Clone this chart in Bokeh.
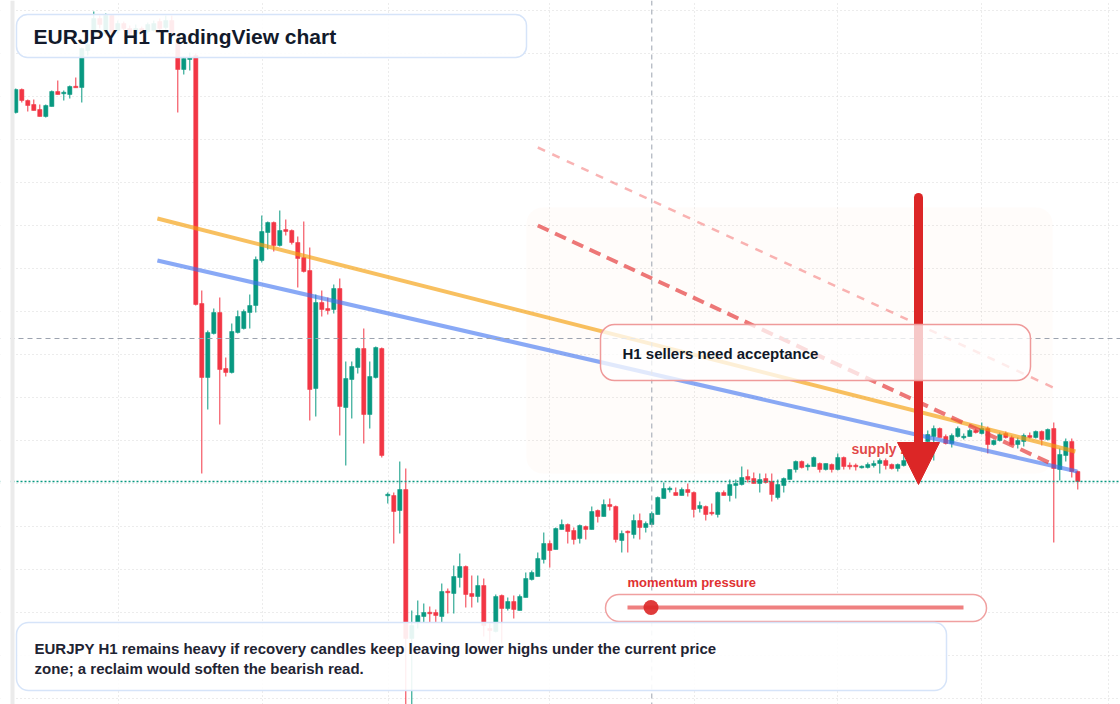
import numpy as np
from bokeh.plotting import figure
from bokeh.models import (ColumnDataSource, BoxAnnotation, Label, Span, Arrow,
                          NormalHead, FixedTicker, Range1d)
from bokeh.embed import file_html
from bokeh.resources import INLINE

# EURJPY H1 candles (price in yen)
opens = [
    163.88, 164.11, 164.00, 163.96, 163.91, 163.84, 163.94, 164.09, 164.07, 164.06,
    164.14, 164.13, 164.50, 164.67, 164.82, 164.67, 164.85, 164.70, 164.77, 164.72,
    164.67, 164.72, 164.69, 164.70, 164.79, 164.73, 164.80, 164.58, 164.31, 164.41,
    164.45, 161.97, 161.23, 161.67, 161.88, 161.32, 161.28, 161.68, 161.72, 161.88,
    161.95, 162.40, 162.68, 162.78, 162.55, 162.71, 162.70, 162.58, 162.43, 162.30,
    161.12, 161.98, 161.92, 161.91, 162.12, 160.93, 161.21, 161.33, 161.52, 160.86,
    161.23, 161.52, 160.05, 160.05, 159.90, 160.11, 158.62, 158.78, 158.84, 158.88,
    158.88, 158.84, 159.09, 159.07, 159.23, 159.34, 159.07, 159.04, 159.15, 158.72,
    158.69, 159.05, 158.92, 158.99, 158.90, 159.03, 159.21, 159.24, 159.41, 159.57,
    159.51, 159.71, 159.76, 159.70, 159.62, 159.74, 159.71, 159.90, 159.84, 159.96,
    159.94, 159.60, 159.69, 159.66, 159.80, 159.73, 159.76, 159.86, 160.02, 160.11,
    160.08, 160.05, 160.11, 160.08, 159.92, 159.94, 159.88, 159.86, 160.08, 160.05,
    160.15, 160.16, 160.24, 160.22, 160.17, 160.22, 160.19, 160.03, 160.15, 160.21,
    160.31, 160.39, 160.34, 160.34, 160.37, 160.31, 160.36, 160.31, 160.43, 160.35,
    160.35, 160.33, 160.33, 160.35, 160.37, 160.40, 160.36, 160.32, 160.35, 160.40,
    160.48, 160.55, 160.59, 160.64, 160.72, 160.64, 160.57, 160.64, 160.63, 160.64,
    160.70, 160.67, 160.72, 160.56, 160.60, 160.67, 160.63, 160.56, 160.59, 160.65,
    160.63, 160.69, 160.61, 160.72, 160.31, 160.45, 160.59, 160.29,
]
highs = [
    164.12, 164.12, 164.01, 164.01, 163.96, 163.96, 164.10, 164.20, 164.10, 164.15,
    164.23, 164.53, 164.60, 164.89, 164.85, 164.87, 164.86, 164.80, 164.79, 164.75,
    164.76, 164.74, 164.78, 164.80, 164.82, 164.85, 164.85, 164.62, 164.44, 164.48,
    164.47, 162.10, 161.70, 161.92, 162.03, 161.43, 161.77, 161.90, 161.91, 162.06,
    162.44, 162.85, 162.79, 162.79, 162.90, 162.81, 162.71, 162.64, 162.79, 162.53,
    162.06, 162.10, 162.03, 162.16, 162.22, 161.39, 161.39, 161.53, 161.72, 161.39,
    161.54, 161.53, 160.08, 160.08, 160.39, 160.32, 158.90, 159.00, 158.97, 158.94,
    158.91, 159.17, 159.12, 159.35, 159.47, 159.35, 159.25, 159.25, 159.22, 158.77,
    159.06, 159.06, 159.03, 159.05, 159.06, 159.28, 159.30, 159.48, 159.68, 159.60,
    159.73, 159.81, 159.77, 159.73, 159.76, 159.75, 159.94, 159.91, 160.01, 160.02,
    159.95, 159.70, 159.70, 159.86, 159.87, 159.79, 159.89, 160.04, 160.18, 160.14,
    160.13, 160.13, 160.17, 160.09, 159.99, 159.95, 159.97, 160.09, 160.10, 160.21,
    160.21, 160.34, 160.31, 160.28, 160.27, 160.27, 160.27, 160.21, 160.23, 160.31,
    160.40, 160.40, 160.37, 160.44, 160.38, 160.37, 160.37, 160.47, 160.44, 160.38,
    160.37, 160.35, 160.38, 160.40, 160.42, 160.42, 160.37, 160.37, 160.47, 160.52,
    160.60, 160.59, 160.70, 160.75, 160.73, 160.66, 160.67, 160.74, 160.67, 160.72,
    160.72, 160.78, 160.74, 160.61, 160.68, 160.69, 160.65, 160.63, 160.67, 160.68,
    160.70, 160.70, 160.72, 160.78, 160.52, 160.62, 160.62, 160.30,
]
lows = [
    163.87, 163.98, 163.89, 163.90, 163.84, 163.83, 163.94, 164.06, 164.00, 164.02,
    164.13, 163.98, 164.45, 164.65, 164.72, 164.65, 164.64, 164.67, 164.69, 164.64,
    164.65, 164.66, 164.67, 164.69, 164.70, 164.71, 164.65, 163.88, 164.26, 164.30,
    161.95, 160.27, 160.91, 161.66, 160.76, 161.24, 161.27, 161.67, 161.71, 161.72,
    161.88, 162.38, 162.51, 162.49, 162.54, 162.65, 162.56, 162.13, 162.28, 160.80,
    160.84, 161.84, 161.86, 161.87, 160.65, 160.35, 160.82, 161.27, 160.57, 160.72,
    161.22, 160.43, 159.97, 159.57, 159.67, 157.85, 157.88, 158.72, 158.78, 158.78,
    158.78, 158.78, 158.87, 158.87, 159.13, 158.93, 158.93, 158.98, 158.64, 158.57,
    158.68, 158.57, 158.90, 158.82, 158.90, 159.03, 159.20, 159.24, 159.37, 159.33,
    159.51, 159.71, 159.57, 159.56, 159.57, 159.61, 159.71, 159.78, 159.84, 159.90,
    159.58, 159.48, 159.48, 159.62, 159.61, 159.68, 159.76, 159.86, 160.02, 160.08,
    160.05, 160.05, 160.04, 159.83, 159.88, 159.80, 159.85, 159.83, 160.05, 159.99,
    160.02, 160.15, 160.18, 160.17, 160.08, 160.17, 159.99, 160.01, 160.08, 160.21,
    160.28, 160.32, 160.30, 160.34, 160.28, 160.30, 160.28, 160.30, 160.31, 160.31,
    160.30, 160.32, 160.32, 160.33, 160.27, 160.31, 160.31, 160.29, 160.34, 160.38,
    160.45, 160.48, 160.57, 160.40, 160.63, 160.56, 160.53, 160.63, 160.61, 160.64,
    160.67, 160.66, 160.47, 160.55, 160.59, 160.62, 160.55, 160.52, 160.54, 160.62,
    160.62, 160.55, 160.60, 159.58, 160.20, 160.39, 160.23, 160.11,
]
closes = [
    164.11, 164.00, 163.95, 163.90, 163.84, 163.95, 164.09, 164.06, 164.08, 164.14,
    164.13, 164.52, 164.56, 164.82, 164.76, 164.85, 164.68, 164.77, 164.72, 164.67,
    164.72, 164.69, 164.76, 164.77, 164.72, 164.80, 164.68, 164.31, 164.42, 164.43,
    161.96, 161.23, 161.68, 161.88, 161.31, 161.28, 161.69, 161.84, 161.89, 161.95,
    162.41, 162.69, 162.78, 162.55, 162.70, 162.69, 162.58, 162.42, 162.29, 161.11,
    161.98, 161.91, 161.90, 162.12, 160.94, 161.22, 161.34, 161.52, 160.86, 161.24,
    161.53, 160.45, 160.06, 159.89, 160.11, 158.62, 158.75, 158.85, 158.88, 158.87,
    158.85, 159.09, 159.08, 159.24, 159.34, 159.06, 159.04, 159.15, 158.75, 158.70,
    159.04, 158.92, 158.99, 158.91, 159.04, 159.22, 159.28, 159.42, 159.57, 159.50,
    159.72, 159.76, 159.69, 159.61, 159.75, 159.71, 159.89, 159.84, 159.96, 159.94,
    159.61, 159.67, 159.68, 159.80, 159.73, 159.77, 159.87, 160.03, 160.12, 160.12,
    160.05, 160.11, 160.08, 159.91, 159.95, 159.86, 159.87, 160.08, 160.05, 160.16,
    160.17, 160.23, 160.21, 160.17, 160.21, 160.18, 160.06, 160.16, 160.22, 160.31,
    160.39, 160.33, 160.35, 160.43, 160.31, 160.37, 160.31, 160.43, 160.34, 160.34,
    160.34, 160.34, 160.36, 160.37, 160.40, 160.35, 160.32, 160.36, 160.40, 160.48,
    160.55, 160.52, 160.66, 160.72, 160.63, 160.57, 160.65, 160.72, 160.64, 160.70,
    160.68, 160.72, 160.56, 160.60, 160.66, 160.63, 160.56, 160.60, 160.65, 160.63,
    160.69, 160.61, 160.71, 160.32, 160.46, 160.59, 160.29, 160.19,
]

# drawn trendlines (candle index, price)
trend_x = [23.6, 176.6]
orange_y = [162.82, 160.49]
blue_x = [23.6, 176.9]
blue_y = [162.40, 160.29]
channel_x = [87.0, 172.9]
channel_low_y = [162.75, 160.36]
channel_high_y = [163.53, 161.13]

# horizontal grid levels and vertical session markers
grid_prices = [164.905, 164.475, 164.045, 163.615, 163.185, 162.755, 162.325, 161.895,
               161.465, 161.035, 160.605, 160.175, 159.745, 159.315, 158.885, 158.455,
               158.025]
grid_bars = [17.1, 41.1, 62.1, 89.0, 113.1, 137.0, 161.0, 182.1]
crosshair_bar = 106.0
crosshair_price = 161.62
momentum_pressure = 0.07

title = "EURJPY H1 TradingView chart"
callout = "H1 sellers need acceptance"
note_lines = ["EURJPY H1 remains heavy if recovery candles keep leaving lower highs under the current price",
              "zone; a reclaim would soften the bearish read."]

GREEN = "#089981"
RED = "#f23645"
FONT = "Liberation Sans"


def fx(px):
    # pixel column of the layout -> candle index
    return (px - 15.3) / 6.0


def fy(py):
    # pixel row of the layout -> price
    return 165.0 - py / 100.0


p = figure(
    width=1120, height=704,
    x_range=Range1d(fx(0), fx(1120)), y_range=Range1d(fy(704), fy(0)),
    x_axis_location=None, y_axis_location=None,
    output_backend="svg", toolbar_location=None, tools="",
    min_border=0, border_fill_color="white",
    background_fill_color="white", outline_line_color=None,
)

# the figure keeps its grids even without axes: point them at our levels
p.ygrid.ticker = FixedTicker(ticks=grid_prices)
p.xgrid.ticker = FixedTicker(ticks=grid_bars)
p.grid.grid_line_color = "#d9d9d9"
p.grid.grid_line_dash = "1 3"

# supply zone shading
p.add_layout(BoxAnnotation(left=fx(526), right=fx(1052), top=fy(207), bottom=fy(473),
                           fill_color="#f97316", fill_alpha=0.022, line_color=None,
                           border_radius=16, level="underlay"))

# candles
o = np.array(opens)
c = np.array(closes)
top = np.maximum(o, c)
bot = np.minimum(o, c)
thin = (top - bot) < 0.015
mid = (top + bot) / 2
top = np.where(thin, mid + 0.0075, top)
bot = np.where(thin, mid - 0.0075, bot)
src = ColumnDataSource(dict(
    x=np.arange(len(opens)), h=highs, l=lows, top=top, bot=bot,
    color=np.where(c >= o, GREEN, RED),
))
p.segment(x0="x", y0="l", x1="x", y1="h", line_color="color", line_width=1, source=src)
p.vbar(x="x", top="top", bottom="bot", width=0.7, fill_color="color",
       line_color="color", line_width=0.5, source=src)

# trendlines
p.line(trend_x, orange_y, line_width=4, line_color="#f59e0b", line_alpha=0.65)
p.line(blue_x, blue_y, line_width=4, line_color="#3b6ff0", line_alpha=0.6)
p.line(channel_x, channel_high_y, line_width=2.5, line_color="#ef4444", line_alpha=0.4,
       line_dash="8 8")
p.line(channel_x, channel_low_y, line_width=4, line_color="#e53e3e", line_alpha=0.7,
       line_dash="12 7")

# crosshair and last price
p.add_layout(Span(location=crosshair_bar, dimension="height", line_color="#9ca3af",
                  line_dash="5 4", line_width=1))
p.add_layout(Span(location=crosshair_price, dimension="width", line_color="#9ca3af",
                  line_dash="5 4", line_width=1))
p.add_layout(Span(location=closes[-1], dimension="width", line_color=GREEN,
                  line_dash="2 2", line_width=1.5))

p.add_layout(Label(x=fx(851), y=fy(448), text="supply zone", text_font=FONT,
                   text_font_size="14px", text_font_style="bold", text_color="#dc2626",
                   text_alpha=0.85, text_baseline="middle"))

# bearish arrow: rounded shaft, then the head on its own
p.add_layout(Arrow(end=None, x_start=fx(918), y_start=fy(197), x_end=fx(918), y_end=fy(446),
                   line_color="#dc2626", line_width=9, line_cap="round"))
p.add_layout(Arrow(end=NormalHead(size=42, fill_color="#dc2626", line_color="#dc2626"),
                   x_start=fx(918), y_start=fy(442), x_end=fx(918), y_end=fy(484),
                   line_alpha=0))

# callout box
p.add_layout(BoxAnnotation(left=fx(600), right=fx(1030), top=fy(324), bottom=fy(380),
                           fill_color="white", fill_alpha=0.75, line_color="#ef9a9a",
                           line_alpha=1.0, line_width=1.5, border_radius=14))
p.add_layout(Label(x=fx(622), y=fy(353), text=callout, text_font=FONT,
                   text_font_size="15px", text_font_style="bold", text_color="#111827",
                   text_baseline="middle"))

# title box
p.add_layout(BoxAnnotation(left=fx(16), right=fx(526), top=fy(14), bottom=fy(57),
                           fill_color="white", fill_alpha=0.9, line_color="#d6e4f9",
                           line_alpha=1.0, line_width=1.5, border_radius=11))
p.add_layout(Label(x=fx(33), y=fy(36), text=title, text_font=FONT,
                   text_font_size="21px", text_font_style="bold", text_color="#121a2b",
                   text_baseline="middle"))

# momentum gauge
p.add_layout(Label(x=fx(627), y=fy(582), text="momentum pressure", text_font=FONT,
                   text_font_size="13px", text_font_style="bold", text_color="#e03131",
                   text_baseline="middle"))
p.add_layout(BoxAnnotation(left=fx(605), right=fx(986), top=fy(594), bottom=fy(621),
                           fill_color="white", fill_alpha=1.0, line_color="#f0a0a0",
                           line_alpha=1.0, line_width=1.5, border_radius=14))
track = p.segment(x0=[fx(627)], y0=[fy(607)], x1=[fx(963)], y1=[fy(607)],
                  line_width=4, line_color="#ef8080")
track.level = "overlay"
dot = p.scatter(x=[fx(627 + momentum_pressure * (963 - 627))], y=[fy(607)], size=15,
                fill_color="#dc2626", line_color=None, fill_alpha=0.9)
dot.level = "overlay"

# bottom note
p.add_layout(BoxAnnotation(left=fx(16), right=fx(946), top=fy(622), bottom=fy(690),
                           fill_color="white", fill_alpha=0.9, line_color="#d6e4f9",
                           line_alpha=1.0, line_width=1.5, border_radius=12))
for k, line in enumerate(note_lines):
    p.add_layout(Label(x=fx(34), y=fy(648 + 20 * k), text=line, text_font=FONT,
                       text_font_size="15px", text_font_style="bold", text_color="#1f2433",
                       text_baseline="middle"))

# left edge: blank margin and the thin grey price-scale border
p.add_layout(BoxAnnotation(left=fx(0), right=fx(10), top=fy(0), bottom=fy(704),
                           fill_color="white", fill_alpha=1.0, line_color=None, level="overlay"))
p.add_layout(BoxAnnotation(left=fx(10), right=fx(14), top=fy(0), bottom=fy(704),
                           fill_color="#ebebeb", fill_alpha=1.0, line_color=None, level="overlay"))

open("out.html", "w").write(file_html(p, INLINE))
